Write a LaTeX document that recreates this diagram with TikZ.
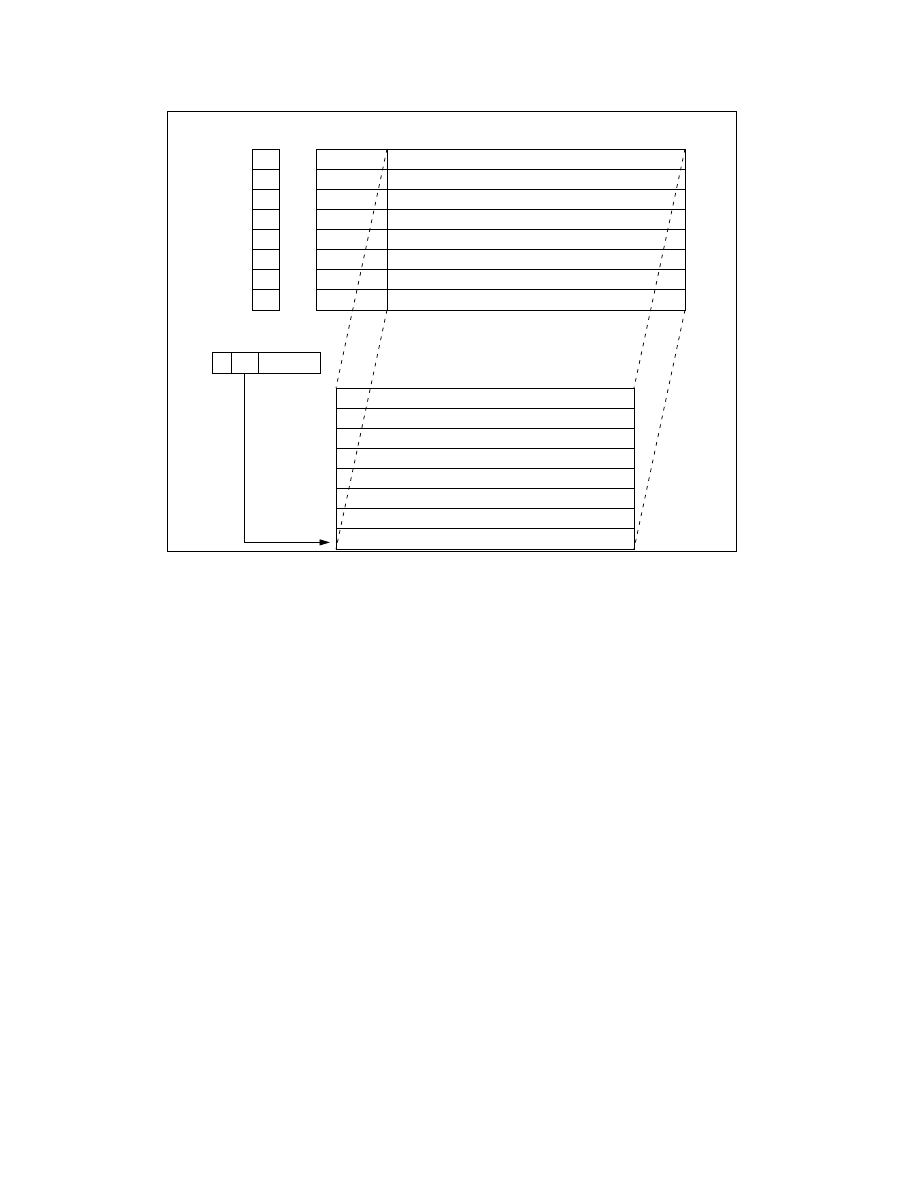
\documentclass[tikz,border=0pt]{standalone}
\usepackage{tikz}
\usetikzlibrary{arrows.meta, positioning}

\begin{document}
\begin{tikzpicture}[x=0.6667pt, y=-0.6667pt,
	cell/.style={draw, line width=0.6pt, inner sep=0pt, outer sep=0pt, minimum height=13.42pt},
	proj/.style={line width=0.5pt, dash pattern=on 2.5pt off 3.5pt}]
	\useasboundingbox (0, 0) rectangle (918, 1188);
	% Frame:
	\draw[line width=0.6pt] (167, 111) rectangle (736, 551);
	% Tables, one row at a time:
	\foreach \i in {1,...,8}{
		\pgfmathsetmacro{\ytop}{149 + (\i - 0.5)*20.125}
		\pgfmathsetmacro{\ylow}{388 + (\i - 0.5)*20.125}
		\node[cell, minimum width=18pt](tag\i) at (265.5, \ytop){};
		\node[cell, minimum width=47.33pt](key\i) at (351.5, \ytop){};
		\node[cell, minimum width=198.67pt](val\i) at (536, \ytop){};
		\node[cell, minimum width=198.67pt](low\i) at (485, \ylow){};
	}
	% Register:
	\node[cell, minimum width=12.67pt, minimum height=14pt](reg1) at (221.5, 362.5){};
	\node[cell, minimum width=18pt, minimum height=14pt](reg2) at (244.5, 362.5){};
	\node[cell, minimum width=41.33pt, minimum height=14pt](reg3) at (289, 362.5){};
	% Projection lines:
	\draw[proj] (val1.north west) -- (low1.north west);
	\draw[proj] (val8.south west) -- (low8.south west);
	\draw[proj] (val1.north east) -- (low1.north east);
	\draw[proj] (val8.south east) -- (low8.south east);
	% Pointer:
	\draw[line width=0.6pt, -{Triangle[length=7pt, width=4pt]}, shorten >=4pt] (reg2.south) |- ([yshift=-2.3pt]low8.west);
\end{tikzpicture}
\end{document}
